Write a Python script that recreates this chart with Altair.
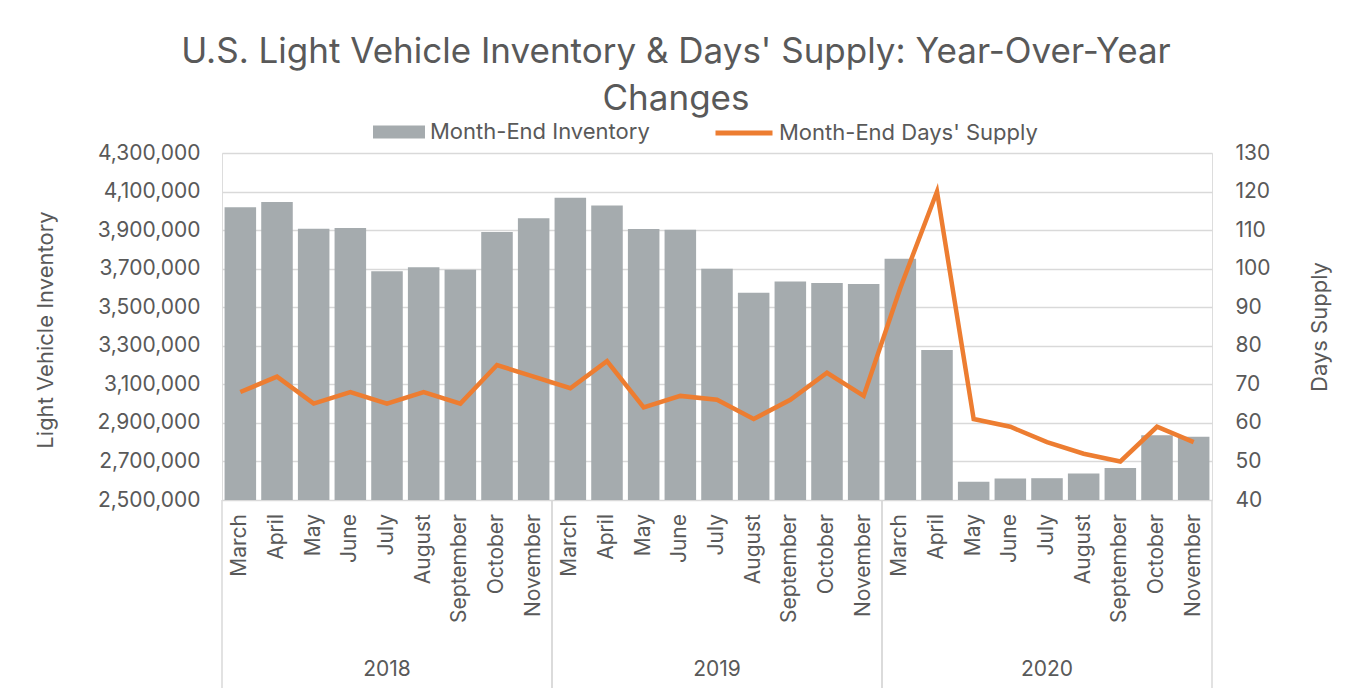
import altair as alt
import pandas as pd

# ---- data ----
years = ["2018"] * 9 + ["2019"] * 9 + ["2020"] * 9
month_names = ["March", "April", "May", "June", "July", "August",
               "September", "October", "November"]
months = month_names * 3
inventory = [4018000, 4046000, 3907000, 3911000, 3686000, 3707000, 3695000, 3890000, 3961000,
             4068000, 4028000, 3906000, 3902000, 3700000, 3575000, 3633000, 3626000, 3620000,
             3752000, 3278000, 2595000, 2611000, 2613000, 2637000, 2666000, 2836000, 2828000]
days_supply = [68, 72, 65, 68, 65, 68, 65, 75, 72,
               69, 76, 64, 67, 66, 61, 66, 73, 67,
               95, 120, 61, 59, 55, 52, 50, 59, 55]
series_names = ["Month-End Inventory", "Month-End Days' Supply"]
left_ticks = list(range(2500000, 4300001, 200000))
right_ticks = list(range(40, 131, 10))

df = pd.DataFrame({
    "idx": list(range(len(months))),
    "year": years,
    "month": months,
    "inventory": inventory,
    "days": days_supply,
    "s1": series_names[0],
    "s2": series_names[1],
})

W, H = 990, 347
FONT = "Inter"
TXT = "#595959"
GRID = "#d9d9d9"
BAR = "#A5ABAE"
ORANGE = "#ED7D31"

xscale = alt.Scale(domain=[-0.5, len(months) - 0.5], nice=False, zero=False)
base = alt.Chart(df)

bars = base.transform_calculate(
    x0="datum.idx - 0.43", x1="datum.idx + 0.43"
).mark_bar().encode(
    x=alt.X("x0:Q", scale=xscale, axis=None),
    x2="x1:Q",
    y=alt.Y("inventory:Q",
            scale=alt.Scale(domain=[left_ticks[0], left_ticks[-1]], nice=False, zero=False),
            axis=alt.Axis(values=left_ticks, labelExpr="format(datum.value, ',.0f')",
                          title="Light Vehicle Inventory",
                          grid=True, gridColor=GRID, gridWidth=1.5, domain=False, ticks=False,
                          labelPadding=22, labelFontSize=21, labelColor=TXT, labelFont=FONT,
                          titleFontSize=22, titleFont=FONT, titleColor=TXT, titleFontWeight="normal",
                          titleAngle=270, titleBaseline="middle", titleX=-177, titleY=H / 2 + 3)),
    y2=alt.datum(left_ticks[0]),
    color=alt.Color("s1:N", scale=alt.Scale(domain=[series_names[0]], range=[BAR]),
                    legend=alt.Legend(title=None, orient="none", legendX=151, legendY=-47,
                                      symbolType="M-1,-0.25H1V0.25H-1Z", symbolSize=2704,
                                      symbolStrokeWidth=0, symbolOpacity=1, labelOffset=5,
                                      labelFontSize=22, labelFont=FONT, labelColor=TXT,
                                      labelLimit=400)),
)

line = base.mark_line(strokeWidth=4.5).encode(
    x=alt.X("idx:Q", scale=xscale, axis=None),
    y=alt.Y("days:Q",
            scale=alt.Scale(domain=[right_ticks[0], right_ticks[-1]], nice=False, zero=False),
            axis=alt.Axis(orient="right", values=right_ticks, title="Days Supply", grid=False,
                          domain=False, ticks=False, labelPadding=23, labelFontSize=21,
                          labelColor=TXT, labelFont=FONT, titleFontSize=22, titleFont=FONT,
                          titleColor=TXT, titleFontWeight="normal", titleAngle=270,
                          titleBaseline="middle", titleX=107, titleY=H / 2)),
    stroke=alt.Stroke("s2:N", scale=alt.Scale(domain=[series_names[1]], range=[ORANGE]),
                      legend=alt.Legend(title=None, orient="none", legendX=491, legendY=-51,
                                        symbolType="stroke", symbolSize=3249,
                                        symbolStrokeWidth=5, labelOffset=4,
                                        labelFontSize=22, labelFont=FONT, labelColor=TXT,
                                        labelLimit=400)),
)

month_text = base.mark_text(angle=270, align="right", baseline="middle", fontSize=21,
                            font=FONT, color=TXT).encode(
    x=alt.X("idx:Q", scale=xscale, axis=None),
    y=alt.value(H + 14),
    text="month:N",
)

year_text = base.transform_aggregate(
    c="mean(idx)", groupby=["year"]
).mark_text(align="center", baseline="middle", fontSize=21, font=FONT, color=TXT).encode(
    x=alt.X("c:Q", scale=xscale, axis=None),
    y=alt.value(H + 170),
    text="year:N",
)

bounds = base.transform_aggregate(
    lo="min(idx)", hi="max(idx)", groupby=["year"]
).transform_calculate(b0="datum.lo - 0.5", b1="datum.hi + 0.5")

sep_lo = bounds.mark_rule(color=GRID, strokeWidth=1.5).encode(
    x=alt.X("b0:Q", scale=xscale, axis=None), y=alt.value(H), y2=alt.value(H + 200))
sep_hi = bounds.mark_rule(color=GRID, strokeWidth=1.5).encode(
    x=alt.X("b1:Q", scale=xscale, axis=None), y=alt.value(H), y2=alt.value(H + 200))

chart = alt.layer(
    bars, line, sep_lo, sep_hi, month_text, year_text
).resolve_scale(
    y="independent"
).properties(
    width=W, height=H,
    autosize=alt.AutoSizeParams(type="none"),
    padding={"left": 214, "top": 145, "right": 132, "bottom": 188},
    title=alt.Title(
        ["U.S. Light Vehicle Inventory & Days' Supply: Year-Over-Year", "Changes"],
        fontSize=35, font=FONT, fontWeight="normal", color=TXT, anchor="middle",
        dx=-41, dy=57, offset=42, lineHeight=47),
).configure_view(stroke=None).configure(background="white")

chart.save("out.html", embed_options={"renderer": "svg", "actions": False})
